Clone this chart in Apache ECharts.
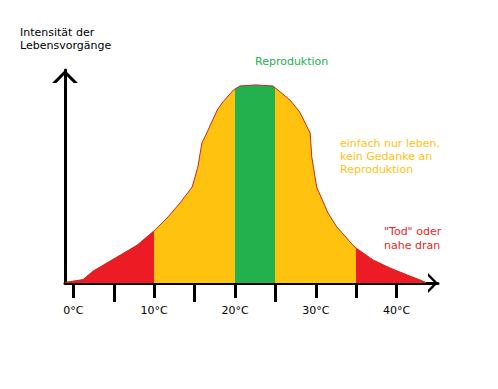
<!DOCTYPE html>
<html><head><meta charset="utf-8">
<script src="https://cdn.jsdelivr.net/npm/echarts@6/dist/echarts.min.js"></script>
<style>html,body{margin:0;padding:0;background:#fff}#c{width:498px;height:389px}</style>
</head><body><div id="c"></div>
<script>
// temperature (°C) along the curve and the matching intensity (0-100)
const temps = [-1.0, 1.2, 2.4, 5.4, 7.9, 10.1, 11.7, 13.2, 14.7, 15.4, 15.9, 16.5, 17.8, 18.5, 19.8, 20.6, 22.6, 24.7, 26.8, 28.0, 29.3, 29.5, 30.1, 31.5, 32.6, 34.8, 37.1, 39.2, 41.3, 42.9, 43.6];
const intensity = [0.3, 1.6, 5.5, 12.2, 17.8, 24.9, 31.0, 37.6, 45.1, 54.5, 65.7, 70.4, 81.2, 85.0, 90.6, 92.5, 93.0, 92.5, 85.9, 80.3, 70.4, 59.2, 45.1, 32.9, 26.3, 16.9, 10.8, 7.0, 3.8, 1.4, 0.3];
const labelTemps = [0, 10, 20, 30, 40];
const shortTicks = [0, 10, 20, 30, 35, 40];
const longTicks = [5, 15, 25];
const zoneBounds = [10, 20, 25, 35];
const zoneColors = ['#ed1c24', '#ffc20e', '#22b14c', '#ffc20e', '#ed1c24'];
const yTitle = 'Intensität der\nLebensvorgänge';
const noteReproduction = 'Reproduktion';
const noteLiving = 'einfach nur leben,\nkein Gedanke an\nReproduktion';
const noteDeath = '"Tod" oder\nnahe dran';

const FONT = 'DejaVu Sans';
const pieces = [];
for (let i = 0; i < zoneColors.length; i++) {
  const p = { color: zoneColors[i] };
  if (i > 0) p.gte = zoneBounds[i - 1];
  if (i < zoneBounds.length) p.lt = zoneBounds[i];
  pieces.push(p);
}
const arrowPath = 'path://M12,0 L24,12 L20,12 L12,4 L4,12 L0,12 Z';
const xMin = -1.04, xMax = 45.12;

function note(text, left, top, color, lh) {
  return { text, left, top, padding: 0,
    textStyle: { fontFamily: FONT, fontSize: 11, fontWeight: 'normal', color, lineHeight: lh } };
}

const chart = echarts.init(document.getElementById('c'), null, { renderer: 'svg' });
chart.setOption({
  animation: false,
  backgroundColor: '#fff',
  title: [
    note(yTitle, 20, 26, '#000', 13),
    note(noteReproduction, 255, 55, '#22b14c', 13),
    note(noteLiving, 340, 137, '#ffc20e', 13),
    note(noteDeath, 384, 224, '#ed1c24', 14)
  ],
  grid: { left: 65, right: 60, top: 70, bottom: 106, containLabel: false },
  xAxis: [{
    type: 'value', min: xMin, max: xMax, position: 'bottom',
    splitLine: { show: false },
    axisLine: { show: true, onZero: false, lineStyle: { color: '#000', width: 3 },
      symbol: ['none', arrowPath], symbolSize: [20, 10], symbolOffset: [0, -5] },
    axisTick: { show: true, customValues: shortTicks, length: 15, lineStyle: { color: '#000', width: 3 } },
    axisLabel: { show: true, customValues: labelTemps, formatter: '{value}°C', margin: 22,
      fontFamily: FONT, fontSize: 11, color: '#000' }
  }, {
    type: 'value', min: xMin, max: xMax, position: 'bottom',
    splitLine: { show: false },
    axisLine: { show: false, onZero: false },
    axisTick: { show: true, customValues: longTicks, length: 19, lineStyle: { color: '#000', width: 3 } },
    axisLabel: { show: false }
  }],
  yAxis: {
    type: 'value', min: 0, max: 100,
    splitLine: { show: false },
    axisTick: { show: false }, axisLabel: { show: false },
    axisLine: { show: true, onZero: false, lineStyle: { color: '#000', width: 3 },
      symbol: ['none', arrowPath], symbolSize: [26, 13], symbolOffset: [0, -6.5] }
  },
  visualMap: {
    type: 'piecewise', show: false, dimension: 0, seriesIndex: 0, pieces: pieces
  },
  series: [{
    type: 'line', xAxisIndex: 0,
    data: temps.map((t, i) => [t, intensity[i]]),
    symbol: 'none', smooth: false, z: 1,
    lineStyle: { color: '#c42a1e', width: 1 },
    areaStyle: { opacity: 1 }
  }]
});
</script></body></html>
